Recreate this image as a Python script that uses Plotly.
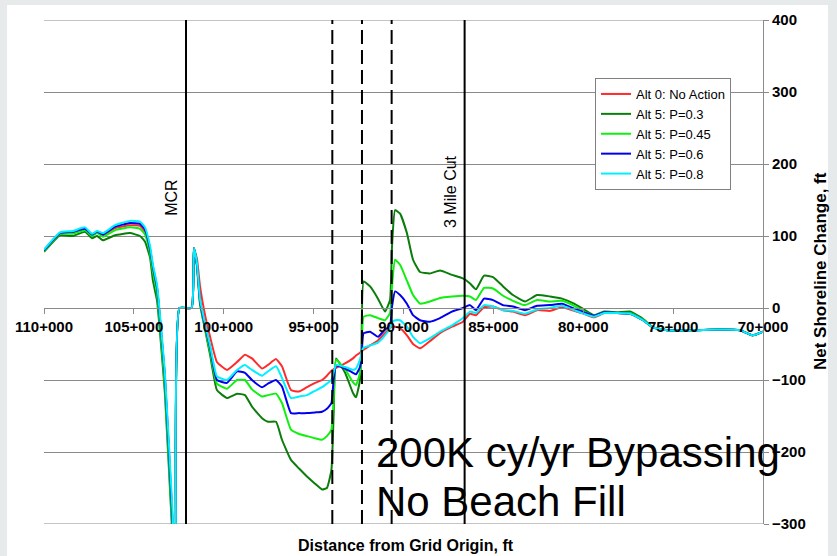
import plotly.graph_objects as go

# Distance from grid origin (ft)
distance_ft = [110000, 109110, 108390, 107720, 107330, 107050, 106720, 106050, 105220, 104660,
               104380, 104100, 103940, 103710, 103270, 102880, 102660, 102460, 101790, 101660,
               101490, 101320, 101040, 100760, 100380, 99820, 99260, 98820, 98430, 97870,
               97540, 97090, 96760, 96260, 95810, 95370, 94920, 94530, 94260, 94010,
               93890, 93750, 93250, 92810, 92640, 92420, 92340, 92220, 91860, 91420,
               91030, 90750, 90640, 90470, 90190, 89810, 89470, 89080, 88530, 87970,
               87300, 86690, 86300, 85970, 85520, 85020, 84460, 83910, 83240, 82570,
               81850, 81180, 80510, 79960, 79400, 78840, 78120, 77400, 76680, 76120,
               75340, 73890, 72390, 71280, 70560, 70000]

alt0_no_action = [80, 104, 105, 109, 101, 105, 101, 111, 115, 114,
                  106, 80, 55, 25, -100, -285, -380, 0, 0, 83,
                  68, 30, -10, -40, -75, -86, -75, -65, -70, -84,
                  -79, -71, -81, -114, -116, -110, -104, -100, -94, -87,
                  -85, -83, -77, -70, -66, -62, -60, -58, -52, -45,
                  -35, -28, -26, -26, -28, -38, -50, -56, -46, -35,
                  -26, -19, -8, -10, 1, 2, -3, -5, -10, -3,
                  -4, 1, -4, -8, -13, -7, -7, -8, -17, -27,
                  -31, -31, -30, -31, -38, -33]

alt5_p030 = [78, 101, 100, 106, 97, 100, 94, 101, 104, 100,
             92, 70, 38, 10, -120, -305, -380, 0, 0, 83,
             58, 5, -30, -65, -114, -125, -119, -121, -137, -153,
             -158, -158, -183, -211, -223, -234, -244, -252, -250, -225,
             -150, -70, -90, -118, -124, -100, -60, 37, 30, 13,
             -5, 11, 85, 136, 131, 104, 67, 50, 48, 52,
             46, 41, 34, 26, 45, 43, 30, 18, 9, 18,
             16, 13, 6, -2, -10, -5, -6, -5, -15, -27,
             -31, -31, -30, -31, -38, -33]

alt5_p045 = [79, 103, 103, 108, 100, 104, 99, 108, 112, 110,
             102, 76, 50, 20, -110, -295, -380, 0, 0, 83,
             60, 8, -28, -60, -105, -112, -100, -100, -113, -123,
             -121, -119, -132, -169, -175, -178, -181, -183, -178, -169,
             -128, -72, -85, -103, -107, -90, -70, -12, -10, -14,
             -17, -7, 30, 67, 60, 38, 18, 6, 9, 14,
             16, 17, 16, 11, 28, 27, 17, 10, 4, 11,
             9, 10, 3, -5, -11, -6, -7, -7, -16, -27,
             -31, -31, -30, -31, -38, -33]

alt5_p060 = [80, 104, 106, 110, 102, 106, 102, 113, 118, 117,
             109, 82, 57, 28, -97, -280, -380, 0, 0, 83,
             60, 10, -25, -55, -100, -104, -88, -90, -100, -110,
             -105, -100, -109, -146, -146, -146, -145, -144, -140, -132,
             -100, -80, -84, -90, -92, -82, -70, -35, -33, -40,
             -30, -25, 2, 23, 18, 6, -10, -17, -19, -14,
             -5, 0, 4, -3, 13, 11, 4, 2, -3, 3,
             4, 6, -1, -6, -11, -6, -7, -8, -17, -27,
             -31, -31, -30, -31, -38, -33]

alt5_p080 = [81, 105, 107, 112, 103, 107, 104, 115, 121, 120,
             112, 86, 60, 32, -92, -268, -380, 0, 0, 83,
             62, 12, -22, -52, -95, -100, -86, -79, -86, -94,
             -88, -81, -97, -125, -123, -121, -115, -110, -105, -100,
             -90, -79, -82, -86, -84, -72, -62, -55, -52, -48,
             -38, -28, -20, -17, -17, -26, -40, -49, -42, -33,
             -24, -14, -5, -7, 4, 2, -3, -4, -8, -2,
             0, 3, -3, -8, -12, -7, -7, -8, -17, -27,
             -31, -31, -30, -31, -38, -33]

series_names = ["Alt 0: No Action", "Alt 5: P=0.3", "Alt 5: P=0.45", "Alt 5: P=0.6", "Alt 5: P=0.8"]
series_colors = ["#ff2a2a", "#0a7d0a", "#10f010", "#0000ee", "#00f0ff"]
series_values = [alt0_no_action, alt5_p030, alt5_p045, alt5_p060, alt5_p080]

x_tick_vals = [110000, 105000, 100000, 95000, 90000, 85000, 80000, 75000, 70000]
x_tick_text = ["110+000", "105+000", "100+000", "95+000", "90+000", "85+000", "80+000", "75+000", "70+000"]
y_tick_vals = [-300, -200, -100, 0, 100, 200, 300, 400]
y_min, y_max = -300, 400

solid_markers = [102100, 86600]          # MCR, 3 Mile Cut
dashed_markers = [93960, 92310, 90660]

FONT = "Liberation Sans, Arial, sans-serif"
GRID = "#8a8a8a"

fig = go.Figure()
for name, color, vals in zip(series_names, series_colors, series_values):
    fig.add_trace(go.Scatter(x=distance_ft, y=vals, mode="lines", name=name,
                             line=dict(color=color, width=2, shape="spline", smoothing=0.4)))

L, R, T, B = 44, 74, 20, 32
W, H = 837, 556
pw, ph = W - L - R, H - T - B

def px_x(p):
    return (p - L) / pw

def px_y(p):
    return (H - B - p) / ph

shapes = []
# white slide panel
shapes.append(dict(type="rect", xref="paper", yref="paper", x0=px_x(7), x1=px_x(828),
                   y0=px_y(560), y1=px_y(5), fillcolor="white", line=dict(width=0), layer="below"))
# edge gridlines (top and bottom)
for yv in (y_min, y_max):
    shapes.append(dict(type="line", xref="paper", yref="y", x0=0, x1=1, y0=yv, y1=yv,
                       line=dict(color=GRID, width=1), layer="below"))
for xm in solid_markers:
    shapes.append(dict(type="line", xref="x", yref="paper", x0=xm, x1=xm, y0=0, y1=1,
                       line=dict(color="black", width=2)))
for xm in dashed_markers:
    shapes.append(dict(type="line", xref="x", yref="paper", x0=xm, x1=xm, y0=0, y1=1,
                       line=dict(color="black", width=2, dash="14px,6px")))

annotations = [
    dict(text="MCR", x=solid_markers[0], y=153, xref="x", yref="y", textangle=-90,
         xshift=-14, showarrow=False, font=dict(family=FONT, size=16, color="black")),
    dict(text="3 Mile Cut", x=solid_markers[1], y=162, xref="x", yref="y", textangle=-90,
         xshift=-14, showarrow=False, font=dict(family=FONT, size=16, color="black")),
    dict(text="200K cy/yr Bypassing", x=px_x(374), y=px_y(452), xref="paper", yref="paper",
         xanchor="left", yanchor="middle", showarrow=False,
         font=dict(family=FONT, size=42, color="black")),
    dict(text="No Beach Fill", x=px_x(374), y=px_y(501), xref="paper", yref="paper",
         xanchor="left", yanchor="middle", showarrow=False,
         font=dict(family=FONT, size=42, color="black")),
    dict(text="Distance from Grid Origin, ft", x=px_x(406), y=px_y(545), xref="paper", yref="paper",
         xanchor="center", yanchor="middle", showarrow=False,
         font=dict(family=FONT, size=16, color="black", weight="bold")),
    dict(text="Net Shoreline Change, ft", x=px_x(820), y=px_y(271), xref="paper", yref="paper",
         xanchor="center", yanchor="middle", textangle=-90, showarrow=False,
         font=dict(family=FONT, size=17, color="black", weight="bold")),
]

fig.update_layout(
    width=W, height=H,
    margin=dict(l=L, r=R, t=T, b=B, pad=0),
    paper_bgcolor="#e6eaea",
    plot_bgcolor="white",
    showlegend=True,
    legend=dict(x=px_x(595), y=px_y(78), xanchor="left", yanchor="top",
                bgcolor="white", bordercolor="#808080", borderwidth=1,
                font=dict(family=FONT, size=13, color="black"),
                itemwidth=30, tracegroupgap=0),
    xaxis=dict(range=[110000, 70000], anchor="free", position=px_y(308),
               tickvals=x_tick_vals, ticktext=x_tick_text, showgrid=False, zeroline=False,
               showline=True, linecolor=GRID, linewidth=1,
               ticks="outside", ticklen=5, tickcolor=GRID,
               tickfont=dict(family=FONT, size=15, color="black", weight="bold")),
    yaxis=dict(range=[y_min, y_max], side="right", tickvals=y_tick_vals, showgrid=True,
               gridcolor=GRID, gridwidth=1, zeroline=False,
               showline=True, linecolor=GRID, linewidth=1,
               ticks="outside", ticklen=5, tickcolor=GRID,
               tickfont=dict(family=FONT, size=15, color="black", weight="bold")),
    shapes=shapes,
    annotations=annotations,
)

fig.write_html("out.html")
